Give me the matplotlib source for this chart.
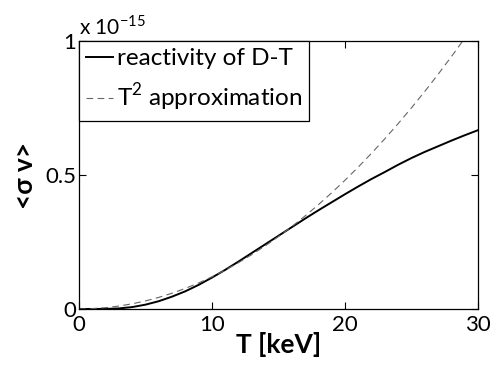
import matplotlib
matplotlib.use("Agg")
import matplotlib.pyplot as plt

plt.rcParams['font.family'] = ['Lato', 'DejaVu Sans']
plt.rcParams['mathtext.fontset'] = 'custom'
plt.rcParams['mathtext.rm'] = 'Lato'

# temperature [keV]
T = list(range(0, 31))
# D-T reactivity, units of 1e-15
reactivity = [0, 0.0000, 0.0003, 0.002, 0.007, 0.016, 0.029, 0.046, 0.066, 0.09,
              0.117, 0.146, 0.177, 0.209, 0.241, 0.273, 0.305, 0.337, 0.368, 0.398,
              0.428, 0.457, 0.485, 0.511, 0.538, 0.563, 0.586, 0.607, 0.628, 0.648,
              0.667]
# T^2 approximation, units of 1e-15
t2_approx = [0, 0.0012, 0.0048, 0.0108, 0.0192, 0.03, 0.0432, 0.0588, 0.0768, 0.0972,
             0.12, 0.1452, 0.1728, 0.2028, 0.2352, 0.27, 0.3072, 0.3468, 0.3888, 0.4332,
             0.48, 0.5292, 0.5808, 0.6348, 0.6912, 0.75, 0.8112, 0.8748, 0.9408, 1.0092,
             1.08]

fig = plt.figure(figsize=(4.91, 3.70), dpi=100)
ax = fig.add_axes([0.161, 0.165, 0.812, 0.724])

ax.plot(T, reactivity, color='black', lw=1.4, label='reactivity of D-T')
ax.plot(T, t2_approx, color='#666666', lw=0.8, dashes=(6, 4),
        label='T$^2$ approximation')

ax.set_xlim(0, 30)
ax.set_ylim(0, 1)
ax.set_xticks([0, 10, 20, 30])
ax.set_yticks([0, 0.5, 1])
ax.set_yticklabels(['0', '0.5', '1'])
ax.tick_params(direction='in', length=5, width=0.8, top=True, right=True,
               labelsize=16, pad=2)
ax.tick_params(axis='x', pad=4)
for s in ax.spines.values():
    s.set_linewidth(0.9)

ax.set_xlabel('T [keV]', fontsize=19, fontweight='bold', labelpad=-2)
ax.set_ylabel('<σ v>', fontsize=19, fontweight='bold', labelpad=6)
ax.text(0.0, 1.01, 'x 10$^{-15}$', transform=ax.transAxes, fontsize=15,
        ha='left', va='bottom')

leg = ax.legend(loc='upper left', fontsize=17.5, frameon=True, fancybox=False,
                edgecolor='black', framealpha=1, borderaxespad=0,
                handlelength=1.1, handletextpad=0.15, borderpad=0.3,
                labelspacing=0.5)
leg.get_frame().set_linewidth(0.9)

fig.savefig('out.png', dpi=100)
